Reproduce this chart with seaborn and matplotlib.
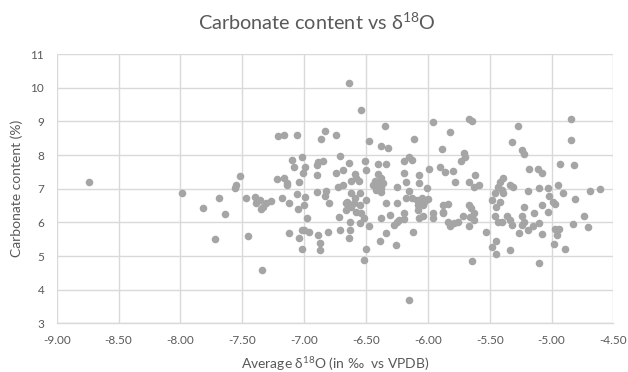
import matplotlib
matplotlib.use("Agg")
import matplotlib.pyplot as plt
import seaborn as sns
import pandas as pd

# Average d18O (per mil vs VPDB) and carbonate content (%) for each sample
d18o = [
    -8.74,
    -7.99, -7.82, -7.69, -7.64, -7.72, -7.52, -7.55, -7.56, -7.47, -7.45,
    -6.64,
    -7.21, -7.16, -7.06, -6.83, -6.86, -6.74,
    -7.10, -7.02, -7.08, -6.99, -7.01, -6.89, -6.85, -6.90,
    -6.71, -6.74, -6.69, -6.90, -6.64,
    -7.22, -7.16, -7.14, -7.14, -7.04,
    -7.18, -7.12, -7.06, -6.99, -7.00, -7.05,
    -6.90, -6.82, -6.83, -6.80, -6.73, -6.69, -6.66, -6.66,
    -7.40, -7.36, -7.33, -7.31, -7.27, -7.39, -7.35,
    -6.98, -7.12, -7.04, -7.02, -7.00, -6.96, -6.89, -6.81, -6.87, -6.87,
    -7.02, -6.71, -6.72, -6.64, -7.34,
    -6.54, -6.35, -5.96, -6.48, -6.11, -6.38, -6.32, -5.89,
    -6.51, -6.40, -6.34, -6.50,
    -6.19, -6.15, -6.13, -6.19, -6.07, -6.07, -6.18, -5.99, -5.90,
    -6.40, -6.38, -6.43, -6.40, -6.36, -6.44, -6.38, -6.42, -6.38,
    -6.59, -6.58, -6.62, -6.56, -6.25,
    -6.15, -6.18, -6.13, -6.09, -6.05, -6.03, -6.00, -6.04, -6.08, -6.01,
    -6.62, -6.55, -6.50, -6.59, -6.65, -6.60, -6.55, -6.62, -6.58, -6.54,
    -6.34, -6.25, -6.31, -6.19,
    -6.08, -6.07, -6.04, -5.96, -5.96, -5.88,
    -6.38, -6.52, -6.48, -6.55, -6.63, -6.63,
    -6.25, -6.23, -6.19, -6.27, -6.34, -6.39, -6.12, -6.26, -6.50, -6.52, -6.15,
    -5.67, -5.64, -5.27, -5.82, -5.32, -5.24, -5.22,
    -5.71, -5.70, -5.73, -5.18,
    -5.86, -5.80, -5.62, -5.78, -5.67, -5.63, -5.59,
    -5.39, -5.42, -5.34, -5.31, -5.43, -5.40, -5.46, -5.39, -5.48, -5.42, -5.45,
    -5.19, -5.22, -5.14,
    -5.88, -5.84, -5.88,
    -5.67, -5.65, -5.63, -5.66, -5.63, -5.67,
    -5.72, -5.76, -5.79, -5.84, -5.82,
    -5.46, -5.43, -5.40, -5.36, -5.34, -5.32,
    -5.24, -5.22, -5.24, -5.26, -5.19, -5.15, -5.10,
    -5.53, -5.45, -5.48, -5.45, -5.34, -5.64, -5.10,
    -4.84, -4.84, -4.93, -4.82, -5.11, -5.08,
    -5.10, -5.03, -4.95, -4.91, -5.02, -4.99, -4.97, -5.08, -5.03,
    -4.81, -4.69, -4.61, -4.74, -4.71, -4.83,
    -4.97, -4.94, -4.96, -4.98, -4.89, -5.08,
]
carbonate = [
    7.19,
    6.87, 6.42, 6.73, 6.25, 5.50, 7.39, 7.12, 7.03, 6.73, 5.60,
    10.13,
    8.57, 8.61, 8.59, 8.71, 8.48, 8.59,
    7.85, 7.95, 7.66, 7.65, 7.46, 7.80, 7.83, 7.70,
    7.97, 7.46, 7.56, 7.41, 7.76,
    7.29, 7.31, 7.16, 7.12, 7.21,
    6.74, 6.59, 6.85, 6.77, 6.52, 6.39,
    6.89, 6.92, 6.79, 6.57, 7.04, 7.12, 6.57, 6.37,
    6.77, 6.67, 6.47, 6.57, 6.65, 6.57, 6.39,
    6.12, 5.70, 5.53, 5.78, 5.78, 5.73, 5.63, 5.73, 5.40, 5.18,
    5.21, 5.78, 6.17, 5.53, 4.59,
    9.34, 8.86, 8.99, 8.43, 8.49, 8.28, 8.21, 8.18,
    7.83, 7.74, 7.74, 7.56,
    7.82, 7.93, 7.85, 7.48, 7.41, 7.18, 7.21, 7.58, 7.66,
    7.44, 7.32, 7.24, 7.16, 7.16, 7.11, 7.01, 6.96, 6.91,
    7.44, 7.32, 7.22, 7.22, 7.06,
    6.92, 6.72, 6.72, 6.67, 6.72, 6.62, 6.69, 6.52, 6.52, 7.01,
    6.87, 6.87, 6.67, 6.72, 6.62, 6.57, 6.52, 6.47, 6.32, 6.29,
    6.57, 6.59, 6.22, 6.27,
    6.37, 6.12, 6.19, 6.29, 6.12, 6.32,
    6.12, 6.12, 5.88, 5.97, 6.02, 5.78,
    6.02, 6.07, 6.09, 5.93, 5.68, 5.46, 5.73, 5.33, 5.21, 4.89, 3.70,
    9.06, 9.02, 8.86, 8.67, 8.39, 8.16, 8.03,
    8.07, 7.93, 7.81, 7.60,
    7.51, 7.53, 7.40, 7.19, 7.19, 7.06, 7.11,
    7.31, 7.21, 7.11, 7.06, 7.06, 6.96, 6.87, 6.87, 6.67, 6.62, 6.47,
    6.93, 6.47, 6.29,
    6.52, 6.55, 6.29,
    6.52, 6.42, 6.27, 6.17, 6.07, 5.90,
    6.19, 6.02, 5.98, 6.02, 5.88,
    6.19, 6.02, 6.02, 6.19, 6.07, 5.93,
    6.19, 6.02, 5.93, 5.70, 5.78, 5.88, 5.98,
    5.73, 5.45, 5.26, 5.07, 5.18, 4.85, 4.81,
    9.07, 8.45, 7.74, 7.70, 7.58, 7.48,
    7.03, 7.03, 7.11, 6.87, 6.79, 6.62, 6.55, 6.52, 6.30,
    6.69, 6.93, 6.98, 6.19, 5.86, 5.96,
    5.80, 5.80, 5.62, 5.36, 5.21, 5.65,
]

x_ticks = [-9.0, -8.5, -8.0, -7.5, -7.0, -6.5, -6.0, -5.5, -5.0, -4.5]
y_ticks = [3, 4, 5, 6, 7, 8, 9, 10, 11]

df = pd.DataFrame({"d18o": d18o, "carbonate": carbonate})

sns.set_style("white")
plt.rcParams["font.family"] = ["Lato", "DejaVu Sans"]
plt.rcParams["mathtext.fontset"] = "custom"
plt.rcParams["mathtext.rm"] = "Lato"
plt.rcParams["mathtext.it"] = "Lato"
plt.rcParams["mathtext.default"] = "regular"

text_color = "#595959"
grid_color = "#D9D9D9"
marker_color = "#A5A5A5"

fig = plt.figure(figsize=(6.28, 3.72), dpi=100)
ax = fig.add_axes([0.0903, 0.1304, 0.8866, 0.7244])

sns.scatterplot(data=df, x="d18o", y="carbonate", ax=ax, color=marker_color,
                s=30, linewidth=0, alpha=1.0, zorder=3)

ax.set_xlim(-9.0, -4.5)
ax.set_ylim(3, 11)
ax.set_xticks(x_ticks)
ax.set_xticklabels([f"{t:.2f}" for t in x_ticks])
ax.set_yticks(y_ticks)
ax.set_yticklabels([str(t) for t in y_ticks])

ax.grid(True, color=grid_color, linewidth=1.0, zorder=0)
ax.set_axisbelow(True)
for side in ["top", "right", "left"]:
    ax.spines[side].set_visible(False)
ax.spines["bottom"].set_color(grid_color)
ax.spines["bottom"].set_linewidth(1.0)

ax.tick_params(axis="both", length=0, colors=text_color, labelsize=8.5)
ax.tick_params(axis="x", pad=8.5)
ax.tick_params(axis="y", pad=9)

ax.set_xlabel(r"Average δ$^{18}$O (in ‰  vs VPDB)", color=text_color,
              fontsize=10)
ax.xaxis.set_label_coords(0.5, -0.118)
ax.set_ylabel("Carbonate content (%)", color=text_color, fontsize=10)
ax.yaxis.set_label_coords(-0.06, 0.5)
fig.text(0.505, 0.94, r"Carbonate content vs δ$^{18}$O", ha="center",
         va="center", color=text_color, fontsize=14.3)

fig.savefig("out.png", dpi=100, facecolor="white")
